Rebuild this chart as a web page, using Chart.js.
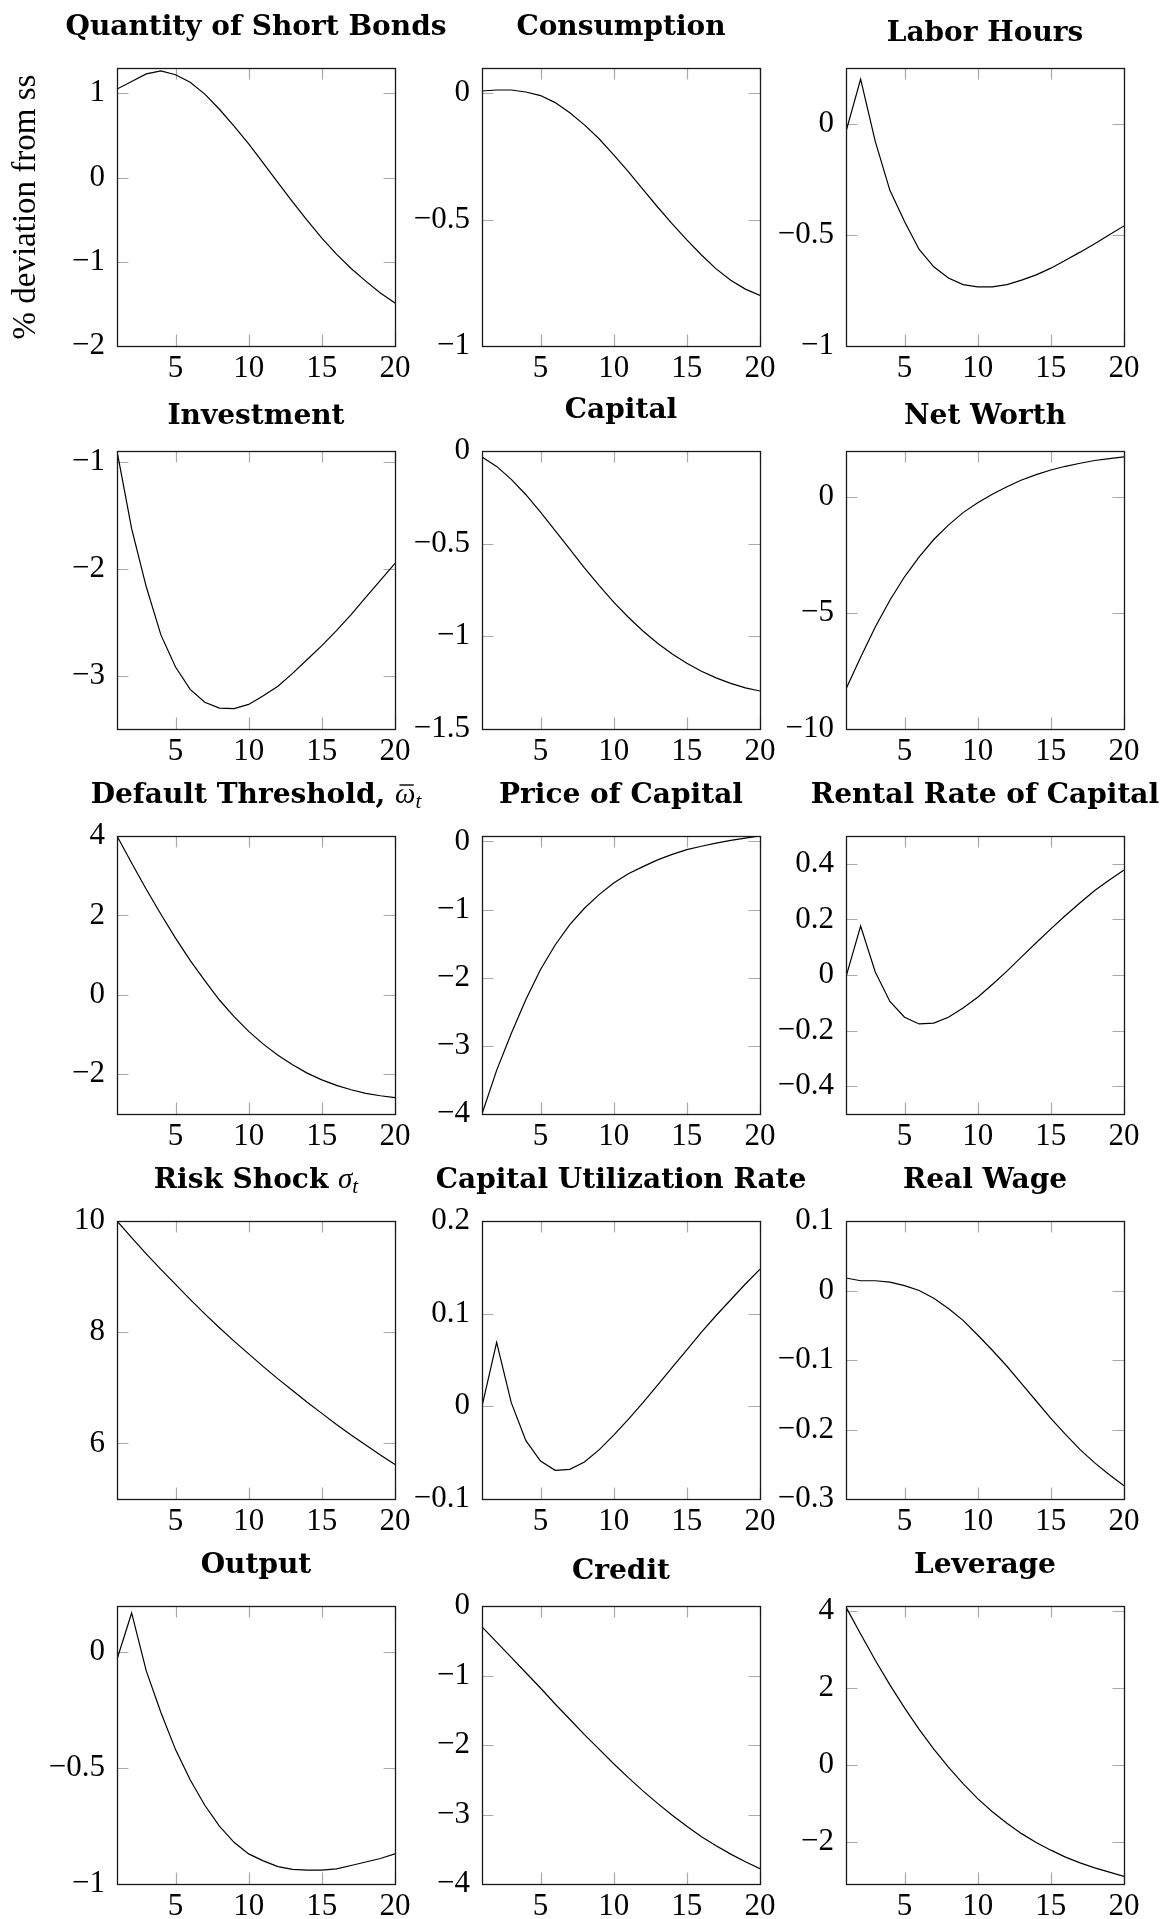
<!DOCTYPE html>
<html>
<head>
<meta charset="utf-8">
<title>Impulse responses to a risk shock</title>
<script src="https://cdn.jsdelivr.net/npm/chart.js@4.4.1/dist/chart.umd.min.js"></script>
<style>
  html, body { margin: 0; padding: 0; background: #fff; }
  #fig { position: relative; width: 1176px; height: 1919px; overflow: hidden; background: #fff; }
  #fig canvas { position: absolute; }
</style>
</head>
<body>
<div id="fig"></div>
<script>
// Quarters after the shock
const periods = [1, 2, 3, 4, 5, 6, 7, 8, 9, 10, 11, 12, 13, 14, 15, 16, 17, 18, 19, 20];
const xTickValues = [5, 10, 15, 20];

// Responses, % deviation from steady state
const shortBonds = [1.05, 1.14, 1.23, 1.265, 1.22, 1.13, 0.99, 0.81, 0.61, 0.40, 0.17, -0.06, -0.29, -0.51, -0.72, -0.91, -1.08, -1.23, -1.37, -1.49];
const consumption = [0.009, 0.013, 0.013, 0.005, -0.009, -0.037, -0.077, -0.125, -0.18, -0.244, -0.31, -0.38, -0.45, -0.517, -0.58, -0.64, -0.695, -0.74, -0.775, -0.80];
const laborHours = [-0.036, 0.20, -0.08, -0.30, -0.44, -0.566, -0.644, -0.694, -0.724, -0.734, -0.734, -0.724, -0.704, -0.68, -0.65, -0.614, -0.578, -0.54, -0.50, -0.46];
const investment = [-0.9, -1.626, -2.17, -2.62, -2.92, -3.13, -3.25, -3.305, -3.31, -3.27, -3.19, -3.10, -2.98, -2.85, -2.72, -2.58, -2.43, -2.27, -2.11, -1.95];
const capital = [-0.032, -0.083, -0.153, -0.236, -0.33, -0.43, -0.53, -0.63, -0.725, -0.815, -0.897, -0.971, -1.037, -1.095, -1.145, -1.188, -1.224, -1.254, -1.278, -1.295];
const netWorth = [-8.27, -6.9, -5.6, -4.44, -3.43, -2.57, -1.82, -1.2, -0.66, -0.23, 0.13, 0.46, 0.75, 0.98, 1.18, 1.34, 1.47, 1.59, 1.67, 1.75];
const defaultThreshold = [4.0, 3.32, 2.66, 2.03, 1.43, 0.87, 0.36, -0.13, -0.55, -0.92, -1.24, -1.52, -1.76, -1.97, -2.14, -2.28, -2.39, -2.48, -2.54, -2.59];
const priceOfCapital = [-4.0, -3.36, -2.82, -2.32, -1.88, -1.52, -1.22, -0.98, -0.78, -0.61, -0.475, -0.37, -0.27, -0.19, -0.12, -0.07, -0.025, 0.015, 0.05, 0.08];
const rentalRate = [-0.007, 0.176, 0.011, -0.095, -0.152, -0.176, -0.173, -0.152, -0.119, -0.08, -0.034, 0.014, 0.065, 0.116, 0.166, 0.214, 0.26, 0.304, 0.342, 0.378];
const riskShock = [10.0, 9.70, 9.41, 9.13, 8.86, 8.59, 8.33, 8.08, 7.84, 7.61, 7.38, 7.16, 6.95, 6.74, 6.54, 6.34, 6.15, 5.97, 5.79, 5.62];
const utilization = [0, 0.069, 0.004, -0.037, -0.059, -0.069, -0.068, -0.060, -0.047, -0.031, -0.014, 0.004, 0.023, 0.042, 0.061, 0.080, 0.098, 0.115, 0.132, 0.148];
const realWage = [0.018, 0.014, 0.014, 0.012, 0.007, 0.0, -0.011, -0.026, -0.043, -0.064, -0.086, -0.109, -0.134, -0.159, -0.184, -0.207, -0.229, -0.248, -0.265, -0.281];
const output = [-0.03, 0.17, -0.08, -0.26, -0.42, -0.55, -0.66, -0.75, -0.82, -0.87, -0.90, -0.925, -0.937, -0.94, -0.94, -0.935, -0.92, -0.905, -0.89, -0.87];
const credit = [-0.30, -0.52, -0.74, -0.96, -1.18, -1.41, -1.63, -1.85, -2.06, -2.27, -2.47, -2.66, -2.84, -3.01, -3.17, -3.32, -3.45, -3.57, -3.68, -3.78];
const leverage = [4.1, 3.4, 2.72, 2.08, 1.48, 0.92, 0.41, -0.06, -0.49, -0.88, -1.22, -1.52, -1.79, -2.02, -2.22, -2.40, -2.55, -2.68, -2.79, -2.90];

// Y tick labels for each panel
const yTicksShortBonds = [-2, -1, 0, 1];
const yTicksConsumption = [-1, -0.5, 0];
const yTicksLabor = [-1, -0.5, 0];
const yTicksInvestment = [-3, -2, -1];
const yTicksCapital = [-1.5, -1, -0.5, 0];
const yTicksNetWorth = [-10, -5, 0];
const yTicksThreshold = [-2, 0, 2, 4];
const yTicksPrice = [-4, -3, -2, -1, 0];
const yTicksRental = [-0.4, -0.2, 0, 0.2, 0.4];
const yTicksRisk = [6, 8, 10];
const yTicksUtil = [-0.1, 0, 0.1, 0.2];
const yTicksWage = [-0.3, -0.2, -0.1, 0, 0.1];
const yTicksOutput = [-1, -0.5, 0];
const yTicksCredit = [-4, -3, -2, -1, 0];
const yTicksLeverage = [-2, 0, 2, 4];

// Fonts
const TITLE_BOLD = "bold 28px 'DejaVu Serif'";
const MATH_IT = "italic 29px 'Liberation Serif'";
const MATH_SUB = "italic 21px 'Liberation Serif'";
const TICK_FONT = { family: "'Liberation Serif'", size: 31 };
const AXIS_TITLE_FONT = "33px 'Liberation Serif'";

const plain = (t) => [{ text: t, font: TITLE_BOLD }];

// One entry per panel, in reading order
const panels = [
  { title: plain('Quantity of Short Bonds'), data: shortBonds, ticks: yTicksShortBonds, min: -2, max: 1.3, yTitle: '% deviation from ss' },
  { title: plain('Consumption'), data: consumption, ticks: yTicksConsumption, min: -1, max: 0.1 },
  { title: plain('Labor Hours'), data: laborHours, ticks: yTicksLabor, min: -1, max: 0.25 },
  { title: plain('Investment'), data: investment, ticks: yTicksInvestment, min: -3.5, max: -0.9 },
  { title: plain('Capital'), data: capital, ticks: yTicksCapital, min: -1.5, max: 0 },
  { title: plain('Net Worth'), data: netWorth, ticks: yTicksNetWorth, min: -10, max: 2 },
  { title: [{ text: 'Default Threshold, ', font: TITLE_BOLD }, { text: '\u03C9', font: MATH_IT, bar: true }, { text: 't', font: MATH_SUB, dy: 5 }],
    data: defaultThreshold, ticks: yTicksThreshold, min: -3, max: 4 },
  { title: plain('Price of Capital'), data: priceOfCapital, ticks: yTicksPrice, min: -4, max: 0.08 },
  { title: plain('Rental Rate of Capital'), data: rentalRate, ticks: yTicksRental, min: -0.5, max: 0.5 },
  { title: [{ text: 'Risk Shock ', font: TITLE_BOLD }, { text: '\u03C3', font: MATH_IT }, { text: 't', font: MATH_SUB, dy: 5 }],
    data: riskShock, ticks: yTicksRisk, min: 5, max: 10 },
  { title: plain('Capital Utilization Rate'), data: utilization, ticks: yTicksUtil, min: -0.1, max: 0.2 },
  { title: plain('Real Wage'), data: realWage, ticks: yTicksWage, min: -0.3, max: 0.1 },
  { title: plain('Output'), data: output, ticks: yTicksOutput, min: -1, max: 0.2 },
  { title: plain('Credit'), data: credit, ticks: yTicksCredit, min: -4, max: 0 },
  { title: plain('Leverage'), data: leverage, ticks: yTicksLeverage, min: -3.1, max: 4.13 }
];

// Grid geometry (plot-area corners on the page)
const colLeft = [117, 482, 846];
const rowTop = [68, 451, 836, 1221, 1606];
const PLOT = 278;
const PAD_L = 112, PAD_T = 62, PAD_R = 90, PAD_B = 50;
const CW = PAD_L + PLOT + PAD_R, CH = PAD_T + PLOT + PAD_B;
const TICK_LEN = 11.5;

const fmt = (v) => (v < 0 ? '\u2212' : '') + String(Math.abs(v));

function drawTitle(ctx, segs, cx, top) {
  let w = 0, depth = 0;
  const m = segs.map((s) => {
    ctx.font = s.font;
    const mt = ctx.measureText(s.text);
    w += mt.width;
    depth = Math.max(depth, mt.actualBoundingBoxDescent + (s.dy || 0));
    return mt;
  });
  const base = top - (depth > 1.5 ? 33 : 27);
  let x = cx - w / 2;
  ctx.fillStyle = '#000';
  ctx.textBaseline = 'alphabetic';
  ctx.textAlign = 'left';
  segs.forEach((s, i) => {
    ctx.font = s.font;
    ctx.fillText(s.text, x, base + (s.dy || 0));
    if (s.bar) {
      ctx.strokeStyle = '#000';
      ctx.lineWidth = 1.4;
      ctx.beginPath();
      ctx.moveTo(x + m[i].width * 0.22, base - 18);
      ctx.lineTo(x + m[i].width * 0.92, base - 18);
      ctx.stroke();
    }
    x += m[i].width;
  });
}

const framePlugin = {
  id: 'frame',
  beforeDatasetsDraw(chart) {
    const { ctx, chartArea: a, scales: { x, y } } = chart;
    ctx.save();
    ctx.strokeStyle = '#a9a9a9';
    ctx.lineWidth = 1.2;
    ctx.beginPath();
    x.ticks.forEach((t) => {
      const px = Math.round(x.getPixelForValue(t.value)) + 0.5;
      ctx.moveTo(px, a.top); ctx.lineTo(px, a.top + TICK_LEN);
      ctx.moveTo(px, a.bottom); ctx.lineTo(px, a.bottom - TICK_LEN);
    });
    y.ticks.forEach((t) => {
      const py = Math.round(y.getPixelForValue(t.value)) + 0.5;
      ctx.moveTo(a.left, py); ctx.lineTo(a.left + TICK_LEN, py);
      ctx.moveTo(a.right, py); ctx.lineTo(a.right - TICK_LEN, py);
    });
    ctx.stroke();
    ctx.restore();
  },
  afterDraw(chart, args, opts) {
    const { ctx, chartArea: a } = chart;
    ctx.save();
    ctx.strokeStyle = '#1a1a1a';
    ctx.lineWidth = 1.3;
    ctx.strokeRect(a.left + 0.5, a.top + 0.5, a.right - a.left, a.bottom - a.top);
    drawTitle(ctx, opts.title, (a.left + a.right) / 2, a.top);
    if (opts.yTitle) {
      ctx.translate(21, (a.top + a.bottom) / 2);
      ctx.rotate(-Math.PI / 2);
      ctx.font = AXIS_TITLE_FONT;
      ctx.textAlign = 'center';
      ctx.textBaseline = 'middle';
      ctx.fillStyle = '#000';
      ctx.fillText(opts.yTitle, 0, 0);
    }
    ctx.restore();
  }
};

const fig = document.getElementById('fig');

panels.forEach((p, i) => {
  const col = i % 3, row = Math.floor(i / 3);
  const cv = document.createElement('canvas');
  cv.width = CW; cv.height = CH;
  cv.style.width = CW + 'px'; cv.style.height = CH + 'px';
  cv.style.left = (colLeft[col] - PAD_L) + 'px';
  cv.style.top = (rowTop[row] - PAD_T) + 'px';
  fig.appendChild(cv);

  new Chart(cv, {
    type: 'line',
    data: {
      datasets: [{
        data: periods.map((t, k) => ({ x: t, y: p.data[k] })),
        borderColor: '#000',
        borderWidth: 1.2,
        pointRadius: 0,
        fill: false,
        tension: 0
      }]
    },
    options: {
      responsive: false,
      animation: false,
      devicePixelRatio: 1,
      layout: { padding: { left: 0, top: PAD_T, right: PAD_R, bottom: 0 } },
      plugins: {
        legend: { display: false },
        tooltip: { enabled: false },
        frame: { title: p.title, yTitle: p.yTitle || null }
      },
      scales: {
        x: {
          type: 'linear', min: 1, max: 20,
          afterBuildTicks: (s) => { s.ticks = xTickValues.map((v) => ({ value: v })); },
          afterFit: (s) => { s.height = PAD_B; s.paddingLeft = 0; s.paddingRight = 0; },
          grid: { display: false, drawTicks: false },
          border: { display: false },
          ticks: { font: TICK_FONT, color: '#000', padding: 4, maxRotation: 0, autoSkip: false, callback: fmt }
        },
        y: {
          type: 'linear', min: p.min, max: p.max,
          afterBuildTicks: (s) => { s.ticks = p.ticks.map((v) => ({ value: v })); },
          afterFit: (s) => { s.width = PAD_L; s.paddingTop = 0; s.paddingBottom = 0; },
          grid: { display: false, drawTicks: false },
          border: { display: false },
          ticks: { font: TICK_FONT, color: '#000', padding: 12, autoSkip: false, callback: fmt }
        }
      }
    },
    plugins: [framePlugin]
  });
});
</script>
</body>
</html>
